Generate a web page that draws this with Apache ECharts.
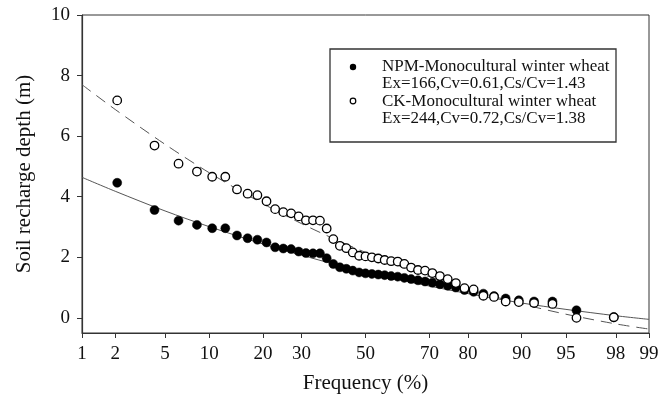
<!DOCTYPE html>
<html>
<head>
<meta charset="utf-8">
<script src="https://cdn.jsdelivr.net/npm/echarts@6/dist/echarts.min.js"></script>
<style>html,body{margin:0;padding:0;background:#fff}#c{width:671px;height:399px}</style>
</head>
<body>
<div id="c"></div>
<script>
// Tick labels of the probability axis (%)
var freqTicks = [1, 2, 5, 10, 20, 30, 50, 70, 80, 90, 95, 98, 99];
var yTicks = [0, 2, 4, 6, 8, 10];

// Empirical frequencies (%) of the observations
var freqObs = [2.08, 4.17, 6.25, 8.33, 10.42, 12.5, 14.58, 16.67, 18.75, 20.83, 22.92, 25, 27.08, 29.17, 31.25, 33.33,
  35.42, 37.5, 39.58, 41.67, 43.75, 45.83, 47.92, 50, 52.08, 54.17, 56.25, 58.33, 60.42, 62.5, 64.58, 66.67,
  68.75, 70.83, 72.92, 75, 77.08, 79.17, 81.25, 83.33, 85.42, 87.5, 89.58, 91.67, 93.75, 95.83, 97.92];

// NPM observations (m)
var npmObs = [4.46, 3.56, 3.21, 3.07, 2.96, 2.96, 2.72, 2.63, 2.58, 2.49, 2.33, 2.29, 2.27, 2.19, 2.14, 2.13,
  2.13, 1.97, 1.78, 1.67, 1.62, 1.56, 1.50, 1.47, 1.45, 1.43, 1.41, 1.38, 1.36, 1.32, 1.28, 1.24,
  1.20, 1.16, 1.11, 1.06, 1.00, 0.92, 0.86, 0.80, 0.72, 0.64, 0.58, 0.54, 0.54, 0.25, 0.02];

// CK observations (m)
var ckObs = [7.18, 5.69, 5.09, 4.83, 4.66, 4.66, 4.24, 4.10, 4.05, 3.85, 3.59, 3.49, 3.45, 3.35, 3.22, 3.22,
  3.21, 2.95, 2.60, 2.38, 2.30, 2.16, 2.05, 2.03, 2.00, 1.96, 1.91, 1.87, 1.86, 1.78, 1.66, 1.58,
  1.56, 1.48, 1.38, 1.28, 1.15, 0.98, 0.94, 0.73, 0.69, 0.54, 0.52, 0.49, 0.46, 0.00, 0.02];

// Fitted curves
var curveFreq = [1, 2, 5, 10, 20, 30, 40, 50, 60, 70, 80, 90, 95, 98, 99];
var npmCurve = [4.64, 4.18, 3.53, 3.01, 2.44, 2.07, 1.77, 1.52, 1.28, 1.05, 0.80, 0.49, 0.28, 0.07, -0.05];
var ckCurve = [7.70, 6.88, 5.73, 4.79, 3.77, 3.11, 2.60, 2.16, 1.75, 1.36, 0.95, 0.46, 0.12, -0.20, -0.37];

var legendLines = ['NPM-Monocultural winter wheat', 'Ex=166,Cv=0.61,Cs/Cv=1.43',
                   'CK-Monocultural winter wheat', 'Ex=244,Cv=0.72,Cs/Cv=1.38'];

// Inverse standard normal CDF (Acklam) -> probability-paper scale
function probit(p) {
  var a = [-39.69683028665376, 220.9460984245205, -275.9285104469687, 138.3577518672690, -30.66479806614716, 2.506628277459239];
  var b = [-54.47609879822406, 161.5858368580409, -155.6989798598866, 66.80131188771972, -13.28068155288572];
  var c = [-0.007784894002430293, -0.3223964580411365, -2.400758277161838, -2.549732539343734, 4.374664141464968, 2.938163982698783];
  var d = [0.007784695709041462, 0.3224671290700398, 2.445134137142996, 3.754408661907416];
  var pl = 0.02425, q, r;
  if (p < pl) {
    q = Math.sqrt(-2 * Math.log(p));
    return (((((c[0]*q+c[1])*q+c[2])*q+c[3])*q+c[4])*q+c[5]) / ((((d[0]*q+d[1])*q+d[2])*q+d[3])*q+1);
  } else if (p <= 1 - pl) {
    q = p - 0.5; r = q * q;
    return (((((a[0]*r+a[1])*r+a[2])*r+a[3])*r+a[4])*r+a[5])*q / (((((b[0]*r+b[1])*r+b[2])*r+b[3])*r+b[4])*r+1);
  } else {
    q = Math.sqrt(-2 * Math.log(1 - p));
    return -(((((c[0]*q+c[1])*q+c[2])*q+c[3])*q+c[4])*q+c[5]) / ((((d[0]*q+d[1])*q+d[2])*q+d[3])*q+1);
  }
}
function fz(pct) { return probit(pct / 100); }
var tickZ = freqTicks.map(fz);
function pair(fr, vals) { return fr.map(function (f, i) { return [fz(f), vals[i]]; }); }

var serif = '"Liberation Serif", "Times New Roman", "DejaVu Serif", serif';
var chart = echarts.init(document.getElementById('c'), null, {renderer: 'canvas'});
chart.setOption({
  animation: false,
  backgroundColor: '#fff',
  textStyle: {fontFamily: serif},
  grid: {left: 82, right: 22, top: 15, bottom: 65, show: true, borderColor: '#333', borderWidth: 1, backgroundColor: 'transparent'},
  xAxis: {
    type: 'value', min: tickZ[0], max: tickZ[tickZ.length - 1],
    name: 'Frequency (%)', nameLocation: 'middle', nameGap: 40,
    nameTextStyle: {fontFamily: serif, fontSize: 21, color: '#111'},
    axisLine: {onZero: false, lineStyle: {color: '#333', width: 1.2}},
    axisTick: {show: true, length: 5, lineStyle: {color: '#333'}, customValues: tickZ},
    axisLabel: {
      fontFamily: serif, fontSize: 19, color: '#111', margin: 12, customValues: tickZ,
      formatter: function (v) {
        var best = 0, bd = 1e9;
        for (var i = 0; i < tickZ.length; i++) { var dd = Math.abs(tickZ[i] - v); if (dd < bd) { bd = dd; best = i; } }
        return String(freqTicks[best]);
      }
    },
    splitLine: {show: false}
  },
  yAxis: {
    type: 'value', min: -0.5, max: 10,
    name: 'Soil recharge depth (m)', nameLocation: 'middle', nameGap: 47,
    nameTextStyle: {fontFamily: serif, fontSize: 21, color: '#111'},
    axisLine: {show: true, onZero: false, lineStyle: {color: '#333', width: 1.2}},
    axisTick: {show: true, length: 5, lineStyle: {color: '#333'}, customValues: yTicks},
    axisLabel: {fontFamily: serif, fontSize: 19, color: '#111', margin: 12, customValues: yTicks},
    splitLine: {show: false}
  },
  series: [
    {type: 'line', data: pair(curveFreq, npmCurve), smooth: 0.3, showSymbol: false, silent: true,
     lineStyle: {color: '#555', width: 1}, z: 1},
    {type: 'line', data: pair(curveFreq, ckCurve), smooth: 0.3, showSymbol: false, silent: true,
     lineStyle: {color: '#555', width: 1, type: [11, 7]}, z: 1},
    {type: 'scatter', data: pair(freqObs.slice(0, npmObs.length), npmObs), symbol: 'circle', symbolSize: 9,
     itemStyle: {color: '#000', borderColor: '#000', borderWidth: 0.5, opacity: 1}, z: 3},
    {type: 'scatter', data: pair(freqObs.slice(0, ckObs.length), ckObs), symbol: 'circle', symbolSize: 8.5,
     itemStyle: {color: '#fff', borderColor: '#000', borderWidth: 1.3, opacity: 1}, z: 4}
  ],
  graphic: [
    {type: 'rect', shape: {x: 330, y: 49, width: 286, height: 93}, style: {fill: '#fff', stroke: '#333', lineWidth: 1.3}, z: 10},
    {type: 'circle', shape: {cx: 353, cy: 67, r: 3.2}, style: {fill: '#000'}, z: 11},
    {type: 'circle', shape: {cx: 353, cy: 101, r: 2.8}, style: {fill: '#fff', stroke: '#000', lineWidth: 1.2}, z: 11},
    {type: 'text', x: 382, y: 67, style: {text: legendLines[0], fontFamily: serif, fontSize: 17, fill: '#111', verticalAlign: 'middle'}, z: 11},
    {type: 'text', x: 382, y: 84, style: {text: legendLines[1], fontFamily: serif, fontSize: 17, fill: '#111', verticalAlign: 'middle'}, z: 11},
    {type: 'text', x: 382, y: 102, style: {text: legendLines[2], fontFamily: serif, fontSize: 17, fill: '#111', verticalAlign: 'middle'}, z: 11},
    {type: 'text', x: 382, y: 119, style: {text: legendLines[3], fontFamily: serif, fontSize: 17, fill: '#111', verticalAlign: 'middle'}, z: 11}
  ]
});
</script>
</body>
</html>
